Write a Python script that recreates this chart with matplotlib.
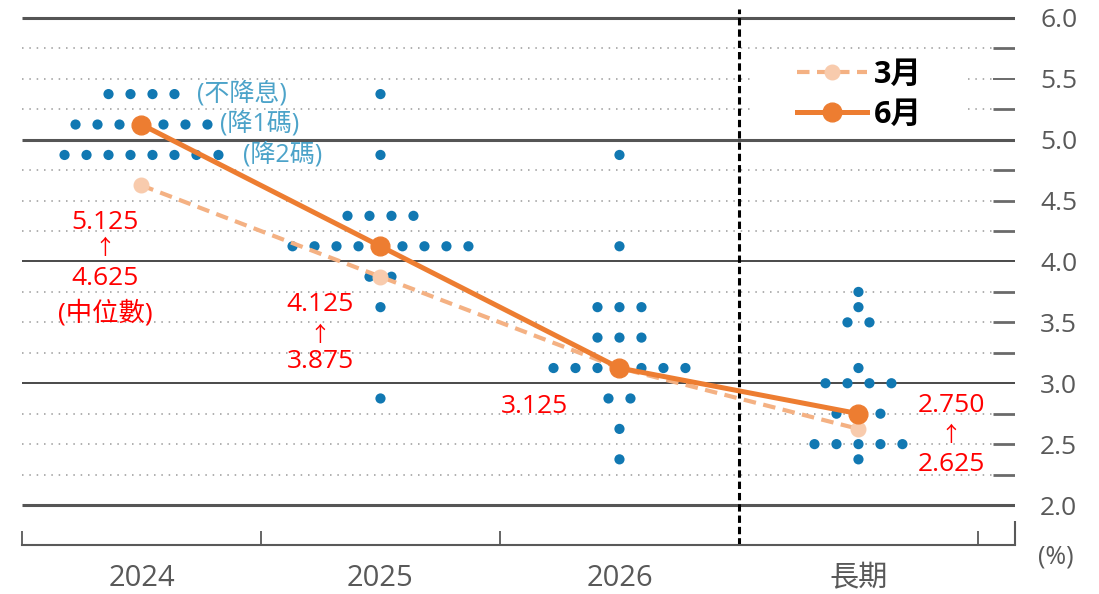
import matplotlib
matplotlib.use('Agg')
import matplotlib.pyplot as plt
from matplotlib.patches import Rectangle
import numpy as np

plt.rcParams['font.family'] = ['Open Sans', 'Noto Sans CJK TC', 'DejaVu Sans']

# ---------------- data ----------------
categories = ['2024', '2025', '2026', '長期']

rates_2024 = [5.375, 5.125, 4.875]
counts_2024 = [4, 7, 8]
rates_2025 = [5.375, 4.875, 4.375, 4.125, 3.875, 3.625, 2.875]
counts_2025 = [1, 1, 4, 9, 2, 1, 1]
rates_2026 = [4.875, 4.125, 3.625, 3.375, 3.125, 2.875, 2.625, 2.375]
counts_2026 = [1, 1, 3, 3, 7, 2, 1, 1]
rates_lr = [3.75, 3.625, 3.5, 3.125, 3.0, 2.75, 2.625, 2.5, 2.375]
counts_lr = [1, 1, 2, 1, 4, 3, 1, 5, 1]

median_march = [4.625, 3.875, 3.125, 2.625]
median_june = [5.125, 4.125, 3.125, 2.75]
legend_labels = ['3月', '6月']

ytick_values = [2.0, 2.5, 3.0, 3.5, 4.0, 4.5, 5.0, 5.5, 6.0]
ytick_labels = ['2.0', '2.5', '3.0', '3.5', '4.0', '4.5', '5.0', '5.5', '6.0']

blue_notes = ['(不降息)', '(降1碼)', '(降2碼)']
red_2024 = ['5.125', '↑', '4.625', '(中位數)']
red_2025 = ['4.125', '↑', '3.875']
red_2026 = ['3.125']
red_lr = ['2.750', '↑', '2.625']

# ---------------- styles ----------------
DOT = '#1178B2'
JUNE = '#ED7D31'
MARCH_LINE = '#F4B183'
MARCH_MK = '#F8CBAD'
RED = '#FF0000'
BLUE_TXT = '#4CA3C9'
GRAY_TXT = '#595959'

fig = plt.figure(figsize=(10.99, 5.94), dpi=100)
ax = fig.add_axes([22 / 1099, 49 / 594, 993 / 1099, 545 / 594])
XMIN, XMAX = -0.5, 3.655
YMIN, YMAX = 1.6715, 6.1478
ax.set_xlim(XMIN, XMAX)
ax.set_ylim(YMIN, YMAX)

# gridlines
XDOT_END = 3.563
grid_levels = np.arange(2.0, 6.01, 0.25)
for lv in grid_levels:
    if abs(lv - round(lv)) < 1e-9:
        heavy = lv in (2.0, 5.0, 6.0)
        ax.hlines(lv, XMIN, XMAX, colors='#555555' if heavy else '#3a3a3a',
                  lw=2.2 if heavy else 1.3, zorder=1)
    else:
        ax.hlines(lv, XMIN, XDOT_END, colors='#9a9a9a', lw=1.1,
                  linestyles=(0, (1, 3.8)), zorder=1)
        ax.hlines(lv, XDOT_END, XMAX, colors='#6a6a6a',
                  lw=1.4 if lv == 5.5 else 2.0, zorder=1)

# white legend background
ax.add_patch(Rectangle((2.567, 5.08), 0.879, 0.64, facecolor='white',
                       edgecolor='none', zorder=1.5))

# separator between forecasts and long run
ax.vlines(2.5, YMIN, 6.07, colors='black', lw=2.2,
          linestyles=(0, (2.4, 1.3)), zorder=2)

# dots
spacing = 0.092
all_rates = [rates_2024, rates_2025, rates_2026, rates_lr]
all_counts = [counts_2024, counts_2025, counts_2026, counts_lr]
for ci, (rates, counts) in enumerate(zip(all_rates, all_counts)):
    xs, ys = [], []
    for r, n in zip(rates, counts):
        for k in range(n):
            xs.append(ci + (k - (n - 1) / 2) * spacing)
            ys.append(r)
    ax.scatter(xs, ys, s=54, color=DOT, edgecolors='none', zorder=3)

xpos = np.arange(len(categories))
ax.plot(xpos, median_march, color=MARCH_LINE, lw=3.0, linestyle=(0, (3, 1.8)),
        marker='o', markersize=10.5, markerfacecolor=MARCH_MK,
        markeredgecolor=MARCH_MK, zorder=4, label=legend_labels[0])
ax.plot(xpos, median_june, color=JUNE, lw=3.6, marker='o', markersize=13.5,
        markerfacecolor=JUNE, markeredgecolor=JUNE, zorder=5,
        label=legend_labels[1])

leg = ax.legend(loc='upper left', bbox_to_anchor=(0.7744, 0.9017),
                prop={'weight': 'bold', 'size': 22}, frameon=False,
                handlelength=2.3, handletextpad=0.2, labelspacing=0.33,
                borderpad=0.2, borderaxespad=0)
leg.set_zorder(6)

# axes cosmetics
for s in ['top', 'left', 'right']:
    ax.spines[s].set_visible(False)
ax.spines['bottom'].set_color('#595959')
ax.spines['bottom'].set_linewidth(1.5)
ax.set_xticks(xpos)
ax.set_xticklabels(categories, fontsize=21, color=GRAY_TXT)
ax.tick_params(axis='x', which='major', length=0, pad=14)
ax.set_xticks([-0.5, 0.5, 1.5, 3.5], minor=True)
ax.tick_params(axis='x', which='minor', direction='in', length=10,
               width=1.3, color='#595959')
ax.vlines(XMAX, YMIN, YMIN + 0.2, colors='#595959', lw=1.5, clip_on=False)

ax.yaxis.tick_right()
ax.set_yticks(ytick_values)
ax.set_yticklabels(ytick_labels, fontsize=19, color=GRAY_TXT)
ax.tick_params(axis='y', length=0, pad=18)
ax.text(3.751, 1.573, '(%)', fontsize=18, color=GRAY_TXT, ha='left',
        va='center', clip_on=False)

# annotations
blue_pos = [(0.232, 5.375), (0.328, 5.13), (0.425, 4.875)]
for t, (x, y) in zip(blue_notes, blue_pos):
    ax.text(x, y, t, fontsize=18, color=BLUE_TXT, ha='left', va='center',
            zorder=7)

def red_stack(texts, x, ys):
    for t, y in zip(texts, ys):
        if t == '↑':
            ax.text(x, y, t, fontsize=15, color=RED, ha='center', va='center',
                    family=['Noto Sans CJK TC'], zorder=7)
        else:
            ax.text(x, y, t, fontsize=19, color=RED, ha='center', va='center',
                    zorder=7)

red_stack(red_2024, -0.153, [4.324, 4.11, 3.86, 3.578])
red_stack(red_2025, 0.747, [3.649, 3.40, 3.175])
red_stack(red_2026, 1.646, [2.806])
red_stack(red_lr, 3.387, [2.815, 2.578, 2.33])

fig.savefig('out.png', dpi=100)
